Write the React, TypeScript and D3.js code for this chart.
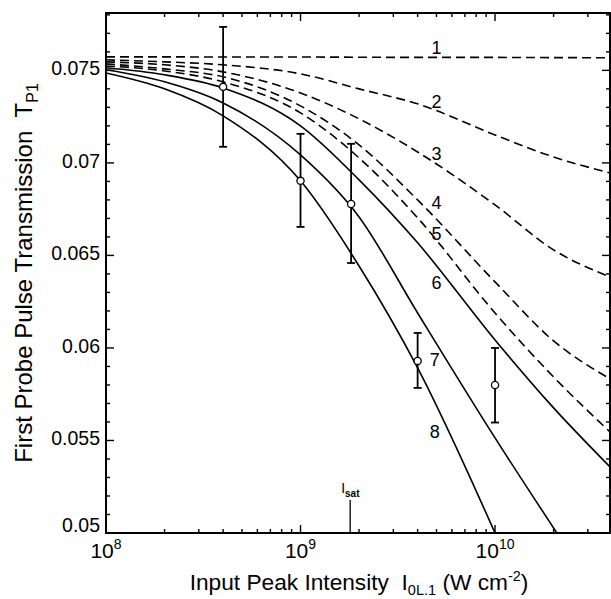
import React from 'react';
import * as d3 from 'd3';

const W = 611;
const H = 599;
const left = 106, right = 610, top = 13, bottom = 533;

// intensity grid (W cm^-2) used for curves 1-6
const gridI = [1e8, 2e8, 4e8, 1e9, 2e9, 4e9, 1e10, 2e10, 3.9e10];
const curve1 = [0.07573, 0.07573, 0.07572, 0.07572, 0.07571, 0.0757, 0.0757, 0.07569, 0.07568];
const curve2 = [0.07557, 0.07546, 0.0753, 0.07481, 0.074, 0.07319, 0.07151, 0.07032, 0.06946];
const curve3 = [0.07546, 0.0753, 0.07492, 0.07378, 0.07238, 0.07059, 0.06773, 0.0653, 0.06384];
const curve4 = [0.07535, 0.07508, 0.07465, 0.07308, 0.07097, 0.068, 0.06357, 0.06038, 0.05833];
const curve5 = [0.07524, 0.07497, 0.07438, 0.0727, 0.07027, 0.06703, 0.06189, 0.05843, 0.05546];
const curve6 = [0.07514, 0.07476, 0.07405, 0.072, 0.06908, 0.06568, 0.06043, 0.05676, 0.05357];
// curves 7 and 8 run into the bottom of the frame
const curve7I = [1e8, 2e8, 4e8, 1e9, 2e9, 4e9, 1e10, 2.08e10];
const curve7 = [0.07503, 0.07438, 0.07324, 0.07043, 0.06708, 0.06189, 0.05514, 0.05];
const curve8I = [1e8, 2e8, 4e8, 1e9, 2e9, 4e9, 1e10];
const curve8 = [0.07486, 0.074, 0.07254, 0.06903, 0.06443, 0.05892, 0.05];

// measured points with error bars
const pointI = [4e8, 1e9, 1.82e9, 4e9, 1e10];
const pointT = [0.07411, 0.06903, 0.06778, 0.0593, 0.058];
const pointLo = [0.07087, 0.06654, 0.06459, 0.05784, 0.05597];
const pointHi = [0.07735, 0.07157, 0.07103, 0.06081, 0.06];

// curve number labels
const labelText = ['1', '2', '3', '4', '5', '6', '7', '8'];
const labelI = [5e9, 5e9, 5e9, 5e9, 5e9, 5e9, 4.9e9, 4.9e9];
const labelT = [0.07622, 0.0733, 0.07049, 0.06784, 0.06616, 0.06351, 0.05935, 0.05546];

const isat = 1.8e9;

const xMajor = [1e8, 1e9, 1e10];
const xExp = ['8', '9', '10'];
const yMajor = [0.05, 0.055, 0.06, 0.065, 0.07, 0.075];
const yLabels = ['0.05', '0.055', '0.06', '0.065', '0.07', '0.075'];

const font = 'Liberation Sans, Arial, Helvetica, sans-serif';

export default function App() {
  const x = d3.scaleLog().domain([1e8, 3.9e10]).range([left, right]);
  const y = d3.scaleLinear().domain([0.05, 0.0781]).range([bottom, top]);

  const line = d3
    .line<[number, number]>()
    .x((d) => x(d[0]))
    .y((d) => y(d[1]))
    .curve(d3.curveMonotoneX);

  const series = [
    { I: gridI, T: curve1, dash: true },
    { I: gridI, T: curve2, dash: true },
    { I: gridI, T: curve3, dash: true },
    { I: gridI, T: curve4, dash: true },
    { I: gridI, T: curve5, dash: true },
    { I: gridI, T: curve6, dash: false },
    { I: curve7I, T: curve7, dash: false },
    { I: curve8I, T: curve8, dash: false },
  ];

  const xMinor: number[] = [];
  xMajor.forEach((d) => {
    for (let k = 2; k <= 9; k++) if (d * k < 3.9e10) xMinor.push(d * k);
  });
  const yMinor = d3.range(50, 79).map((v) => v / 1000).filter((v) => !yMajor.some((m) => Math.abs(m - v) < 1e-7));

  return (
    <div style={{ position: 'absolute', left: 0, top: 0 }}>
      <svg width={W} height={H} style={{ display: 'block', background: '#fff' }}>
        <defs>
          <clipPath id="plot">
            <rect x={left} y={top} width={right - left} height={bottom - top} />
          </clipPath>
        </defs>

        {/* curves */}
        <g clipPath="url(#plot)" fill="none" stroke="#000" strokeWidth={1.6}>
          {series.map((s, i) => (
            <path
              key={i}
              d={line(s.I.map((v, j) => [v, s.T[j]] as [number, number])) || ''}
              strokeDasharray={s.dash ? '9,5' : undefined}
            />
          ))}
        </g>

        {/* error bars */}
        <g stroke="#000" strokeWidth={1.8}>
          {pointI.map((v, i) => (
            <g key={i}>
              <line x1={x(v)} x2={x(v)} y1={y(pointLo[i])} y2={y(pointHi[i])} />
              <line x1={x(v) - 4} x2={x(v) + 4} y1={y(pointLo[i])} y2={y(pointLo[i])} />
              <line x1={x(v) - 4} x2={x(v) + 4} y1={y(pointHi[i])} y2={y(pointHi[i])} />
            </g>
          ))}
        </g>
        {pointI.map((v, i) => (
          <circle key={i} cx={x(v)} cy={y(pointT[i])} r={3.6} fill="#fff" stroke="#000" strokeWidth={1.3} />
        ))}

        {/* curve labels */}
        {labelText.map((t, i) => (
          <text key={t} x={x(labelI[i])} y={y(labelT[i])} fontFamily={font} fontSize={18} textAnchor="middle" dominantBaseline="central">
            {t}
          </text>
        ))}

        {/* I_sat marker */}
        <line x1={x(isat)} x2={x(isat)} y1={bottom - 33} y2={bottom} stroke="#000" strokeWidth={1.3} />
        <text x={x(isat) - 9} y={bottom - 40} fontFamily={font} fontSize={14}>
          I<tspan fontSize={10} dy={4} fontWeight="bold">sat</tspan>
        </text>

        {/* frame */}
        <rect x={left} y={top} width={right - left} height={bottom - top} fill="none" stroke="#000" strokeWidth={2} />

        {/* ticks */}
        <g stroke="#000" strokeWidth={1.4}>
          {xMajor.map((v) => (
            <g key={v}>
              <line x1={x(v)} x2={x(v)} y1={bottom} y2={bottom - 8} />
              <line x1={x(v)} x2={x(v)} y1={top} y2={top + 8} />
            </g>
          ))}
          {xMinor.map((v) => (
            <g key={v}>
              <line x1={x(v)} x2={x(v)} y1={bottom} y2={bottom - 4} />
              <line x1={x(v)} x2={x(v)} y1={top} y2={top + 4} />
            </g>
          ))}
          {yMajor.map((v) => (
            <g key={v}>
              <line x1={left} x2={left + 8} y1={y(v)} y2={y(v)} />
              <line x1={right} x2={right - 8} y1={y(v)} y2={y(v)} />
            </g>
          ))}
          {yMinor.map((v) => (
            <g key={v}>
              <line x1={left} x2={left + 4} y1={y(v)} y2={y(v)} />
              <line x1={right} x2={right - 4} y1={y(v)} y2={y(v)} />
            </g>
          ))}
        </g>

        {/* tick labels */}
        {yMajor.map((v, i) => (
          <text
            key={v}
            x={left - 6}
            y={y(v) - (i === 0 ? 8 : 2)}
            fontFamily={font}
            fontSize={19.5}
            textAnchor="end"
            dominantBaseline="central"
          >
            {yLabels[i]}
          </text>
        ))}
        {xMajor.map((v, i) => (
          <text key={v} x={x(v)} y={558} fontFamily={font} fontSize={21} textAnchor="middle">
            10<tspan fontSize={14} dy={-9}>{xExp[i]}</tspan>
          </text>
        ))}

        {/* axis titles */}
        <text x={359} y={590} fontFamily={font} fontSize={22.7} textAnchor="middle">
          Input Peak Intensity{'\u00a0\u00a0'}I<tspan fontSize={14.5} dy={5}>0L.1</tspan>
          <tspan dy={-5}>{'\u00a0'}(W cm</tspan>
          <tspan fontSize={14.5} dy={-9}>-2</tspan>
          <tspan dy={9}>)</tspan>
        </text>
        <text
          transform={`translate(32, 273) rotate(-90)`}
          fontFamily={font}
          fontSize={24}
          textAnchor="middle"
        >
          First Probe Pulse Transmission{'\u00a0\u00a0'}T<tspan fontSize={16} dy={6}>P1</tspan>
        </text>
      </svg>
    </div>
  );
}
